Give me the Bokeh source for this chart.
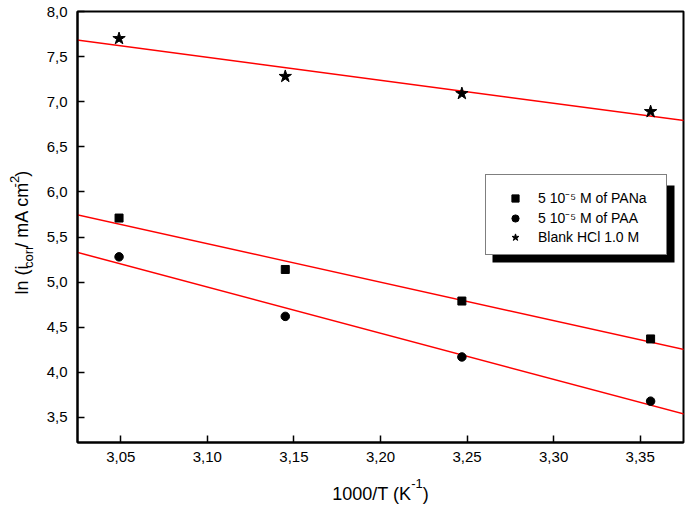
import numpy as np
from bokeh.plotting import figure
from bokeh.layouts import row, column
from bokeh.models import Range1d, FixedTicker, Legend, LegendItem, BoxAnnotation
from bokeh.core.properties import value
from bokeh.embed import file_html
from bokeh.resources import INLINE

# ---------------- data ----------------
inv_T = [3.049, 3.145, 3.247, 3.356]          # 1000/T (K^-1)
ln_i_pana = [5.71, 5.14, 4.79, 4.37]          # 5 10^-5 M of PANa
ln_i_paa = [5.28, 4.62, 4.17, 3.68]           # 5 10^-5 M of PAA
ln_i_blank = [7.70, 7.28, 7.09, 6.89]         # Blank HCl 1.0 M

series_labels = ["5 10\u207b\u2075 M of PANa", "5 10\u207b\u2075 M of PAA", "Blank HCl 1.0 M"]

x_ticks = [3.05, 3.10, 3.15, 3.20, 3.25, 3.30, 3.35]
x_tick_labels = ["3,05", "3,10", "3,15", "3,20", "3,25", "3,30", "3,35"]
y_ticks = [3.5, 4.0, 4.5, 5.0, 5.5, 6.0, 6.5, 7.0, 7.5, 8.0]
y_tick_labels = ["3,5", "4,0", "4,5", "5,0", "5,5", "6,0", "6,5", "7,0", "7,5", "8,0"]

# ---------------- layout ----------------
TOTAL_W, TOTAL_H = 685, 506
LW = 38                     # left strip (y title)
BH = 34                     # bottom strip (x title)
MW, MH = TOTAL_W - LW, TOTAL_H - BH
BL, BR, BT, BB = 77 - LW, 2, 11, 30
FW = MW - BL - BR
FH = MH - BT - BB
X0, X1 = 3.025, 3.375
Y1 = 8.0
PYU = 90.2
Y0 = Y1 - FH / PYU
PXU = FW / (X1 - X0)

def sx(px):      # canvas px -> data x (main figure)
    return X0 + (px - 77) / PXU

def sy(py):      # canvas px -> data y (main figure)
    return Y1 - (py - BT) / PYU

FONT = "Liberation Sans"
AW = {'l': 222, 'n': 556, ' ': 278, '(': 333, 'i': 222, 'c': 500, 'o': 556, 'r': 333,
      '/': 278, 'm': 833, 'A': 667, '-': 333, '2': 556, ')': 333, '1': 556, '0': 556,
      'T': 611, 'K': 667}

def tw(s, size):
    return sum(AW.get(ch, 556) for ch in s) * size / 1000.0

p = figure(width=MW, height=MH, x_range=Range1d(X0, X1), y_range=Range1d(Y0, Y1),
           output_backend="svg", toolbar_location=None,
           min_border_left=BL, min_border_right=BR, min_border_top=BT, min_border_bottom=BB,
           background_fill_color="white", border_fill_color="white")
p.xgrid.visible = False
p.ygrid.visible = False
p.outline_line_color = "black"
p.outline_line_width = 2

p.xaxis.ticker = FixedTicker(ticks=x_ticks)
p.xaxis.major_label_overrides = dict(zip(x_ticks, x_tick_labels))
p.yaxis.ticker = FixedTicker(ticks=y_ticks)
p.yaxis.major_label_overrides = dict(zip(y_ticks, y_tick_labels))
for ax in (p.xaxis, p.yaxis):
    ax.axis_line_width = 2
    ax.axis_line_color = "black"
    ax.major_tick_in = 7
    ax.major_tick_out = 0
    ax.major_tick_line_width = 1.5
    ax.major_tick_line_color = "black"
    ax.minor_tick_line_color = None
    ax.major_label_text_font = FONT
    ax.major_label_text_font_size = "15px"
    ax.major_label_text_color = "black"
p.xaxis.major_label_standoff = 9
p.yaxis.major_label_standoff = 10

# ---------------- fits ----------------
xfit = np.array([X0 - 0.02, X1 + 0.02])
for yv in (ln_i_pana, ln_i_paa, ln_i_blank):
    k, b = np.polyfit(inv_T, yv, 1)
    p.line(xfit, k * xfit + b, line_color="red", line_width=1.5)

r_pana = p.scatter(inv_T, ln_i_pana, marker="square", size=8, color="black")
r_paa = p.scatter(inv_T, ln_i_paa, marker="circle", size=8.5, color="black")
r_blank = p.scatter(inv_T, ln_i_blank, marker="star", size=13, color="black")

# ---------------- legend with shadow ----------------
shadow = BoxAnnotation(left=sx(492), right=sx(674), top=sy(185), bottom=sy(262),
                       fill_color="black", fill_alpha=1, line_color=None)
p.add_layout(shadow)

legend = Legend(items=[LegendItem(label=series_labels[0], renderers=[r_pana]),
                       LegendItem(label=series_labels[1], renderers=[r_paa]),
                       LegendItem(label=series_labels[2], renderers=[r_blank])],
                location=(485 - 77, (BT + FH) - 255), orientation="vertical",
                border_line_color="black", border_line_width=1.5,
                background_fill_color="white", background_fill_alpha=1.0,
                padding=8, spacing=1, margin=0,
                glyph_width=42, glyph_height=18, label_height=18, label_width=120,
                label_standoff=2,
                label_text_font=FONT, label_text_font_size="14px", label_text_color="black",
                title=" ", title_text_font_size="1px", title_standoff=4)
p.add_layout(legend, "center")

MS, SS = 18, 13

# ---------------- y title strip ----------------
ys = figure(width=LW, height=MH, x_range=Range1d(0, LW), y_range=Range1d(0, MH),
            output_backend="svg", toolbar_location=None, x_axis_type=None, y_axis_type=None,
            min_border=0, outline_line_color=None)
ys.grid.visible = False
ys_parts = [("ln (i", MS, 0), ("corr", SS, 7), ("/ mA cm", MS, 0), ("-2", SS, -7), (")", MS, 0)]
base_x = 21
pos = MH - 310
for txt, size, dx in ys_parts:
    ys.text(x=[base_x + dx], y=[pos], text=[txt], angle=np.pi / 2,
            text_font=value(FONT), text_font_size=value(f"{size}px"), text_color="black",
            text_align="left", text_baseline="alphabetic")
    pos += tw(txt, size)

# ---------------- x title strip ----------------
xs = figure(width=TOTAL_W, height=BH, x_range=Range1d(0, TOTAL_W), y_range=Range1d(0, BH),
            output_backend="svg", toolbar_location=None, x_axis_type=None, y_axis_type=None,
            min_border=0, outline_line_color=None)
xs.grid.visible = False
xs_parts = [("1000/T (K", MS, 0), ("-1", SS, 10), (")", MS, 0)]
total = sum(tw(t, s) for t, s, _ in xs_parts)
px = 77 + (3.20 - X0) * PXU - total / 2
base_y = TOTAL_H - 498 + 5
for txt, size, dy in xs_parts:
    xs.text(x=[px], y=[base_y + dy], text=[txt],
            text_font=value(FONT), text_font_size=value(f"{size}px"), text_color="black",
            text_align="left", text_baseline="alphabetic")
    px += tw(txt, size)

page = column(row(ys, p, spacing=0), xs, spacing=0)
open("out.html", "w").write(file_html(page, INLINE))
